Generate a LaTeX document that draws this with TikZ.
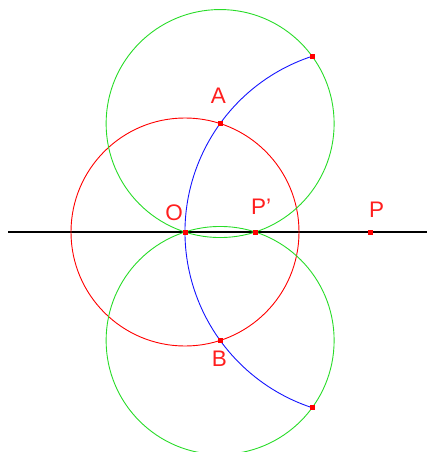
\documentclass[tikz,border=0pt]{standalone}
\usepackage{fontspec}
\setmainfont{Liberation Sans}
\definecolor{gr}{RGB}{40,220,40}
\definecolor{bl}{RGB}{20,20,255}
\definecolor{rd}{RGB}{255,0,0}
\definecolor{lbl}{RGB}{255,30,30}
\begin{document}
\begin{tikzpicture}[x=1pt,y=-1pt,
  lab/.style={text=lbl,font=\fontsize{22.5}{22.5}\selectfont,inner sep=0pt,anchor=center},
  pt/.style={fill=rd,draw=none},
  gcirc/.style={draw=gr,line width=0.9pt},
  rcirc/.style={draw=rd,line width=0.9pt},
  bluearc/.style={draw=bl,line width=0.9pt}]
\useasboundingbox (0,0) rectangle (427,452);
\coordinate (O) at (185,232);
\coordinate (P) at (370,232);
\coordinate (Pp) at (255.25,232);
\coordinate (A) at (220.12,123.55);
\coordinate (B) at (220.12,340.45);
\coordinate (E1) at (312.16,56.27);
\coordinate (E2) at (312.16,407.73);
\coordinate (L1) at (8,232);
\coordinate (L2) at (427,232);
% line
\draw[black,line width=1.2pt] (L1) -- (L2);
% circles
\draw[rcirc] (O) circle[radius=114];
\draw[gcirc] (A) circle[radius=114];
\draw[gcirc] (B) circle[radius=114];
% arc
\draw[bluearc] (E1) arc[start angle=251.78,end angle=108.22,radius=185];
% points
\foreach \p in {O,P,Pp,A,B,E1,E2} \fill[pt] (\p) ++(-2.5,-2.5) rectangle ++(5,5);
% labels
\node[lab] (lA) at (218.5,95.5) {A};
\node[lab] (lO) at (174,212.5) {O};
\node[lab] (lPp) at (261,206.5) {P\symbol{39}};
\node[lab] (lP) at (376.5,210) {P};
\node[lab] (lB) at (219.5,359) {B};
\end{tikzpicture}
\end{document}
